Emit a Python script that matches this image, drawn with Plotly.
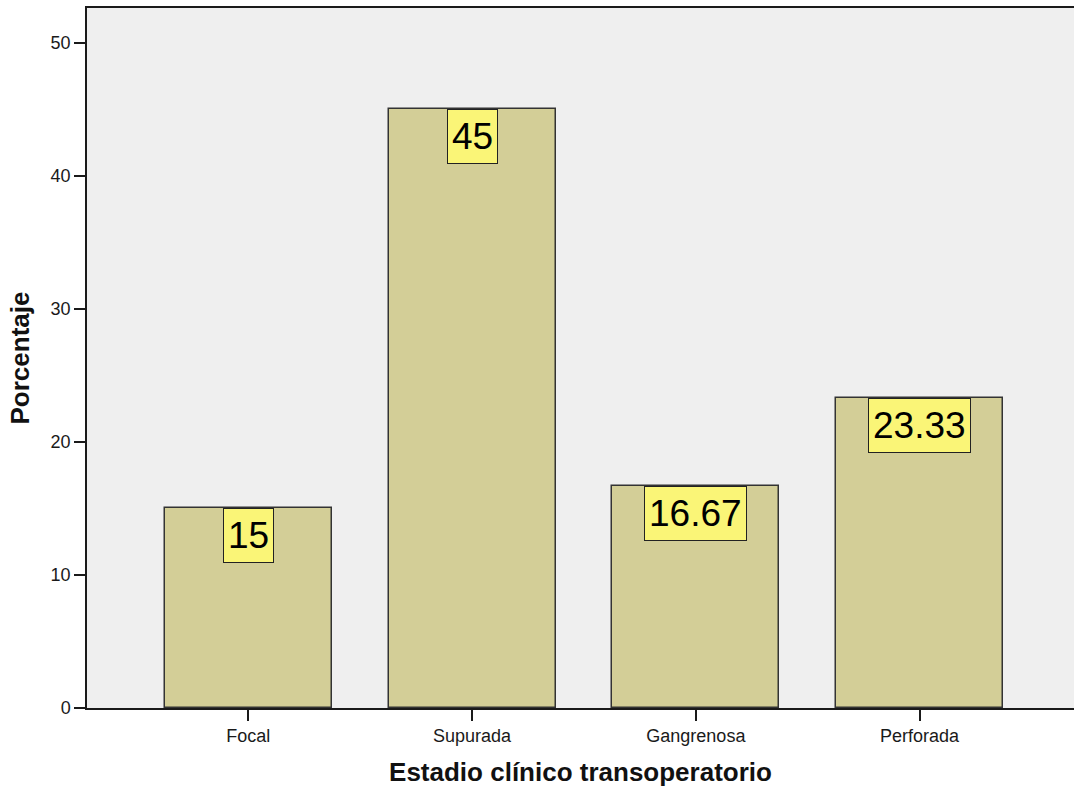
import plotly.graph_objects as go

# Data
categorias = ["Focal", "Supurada", "Gangrenosa", "Perforada"]
porcentajes = [15, 45, 16.67, 23.33]
etiquetas = ["15", "45", "16.67", "23.33"]
y_ticks = [0, 10, 20, 30, 40, 50]

fig = go.Figure()

fig.add_trace(go.Bar(
    x=categorias,
    y=porcentajes,
    width=0.746,
    marker=dict(color="#D3CE97", line=dict(color="#333333", width=1.5)),
    hoverinfo="skip",
))

# Value labels in yellow boxes hanging from the top of each bar
for cat, val, txt in zip(categorias, porcentajes, etiquetas):
    fig.add_annotation(
        x=cat, y=val, xref="x", yref="y",
        text=txt, showarrow=False,
        yanchor="top", xanchor="center",
        height=45,
        font=dict(family="Liberation Sans, Arial", size=37, color="#000000"),
        bgcolor="#FAF577", bordercolor="#222222", borderwidth=1, borderpad=4,
    )

fig.update_layout(
    width=1074, height=790,
    margin=dict(l=87, r=0, t=8, b=82),
    paper_bgcolor="#FFFFFF",
    plot_bgcolor="#EFEFEF",
    showlegend=False,
    bargap=0,
    font=dict(family="Liberation Sans, Arial", color="#1a1a1a"),
    xaxis=dict(
        type="category",
        range=[-0.721, 3.69],
        showline=True, linecolor="#1a1a1a", linewidth=1.5, mirror=True,
        ticks="outside", ticklen=11, tickwidth=1.5, tickcolor="#1a1a1a",
        tickfont=dict(size=18),
        showgrid=False, zeroline=False,
        title=dict(text="<b>Estadio clínico transoperatorio</b>",
                   font=dict(size=26, color="#111111"), standoff=17),
    ),
    yaxis=dict(
        range=[0, 52.6],
        tickvals=y_ticks,
        showline=True, linecolor="#1a1a1a", linewidth=1.5,
        ticks="outside", ticklen=11, tickwidth=1.5, tickcolor="#1a1a1a",
        tickfont=dict(size=18),
        showgrid=False, zeroline=False,
        title=dict(text="<b>Porcentaje</b>",
                   font=dict(size=26, color="#111111"), standoff=14),
    ),
)

fig.write_html("out.html")
